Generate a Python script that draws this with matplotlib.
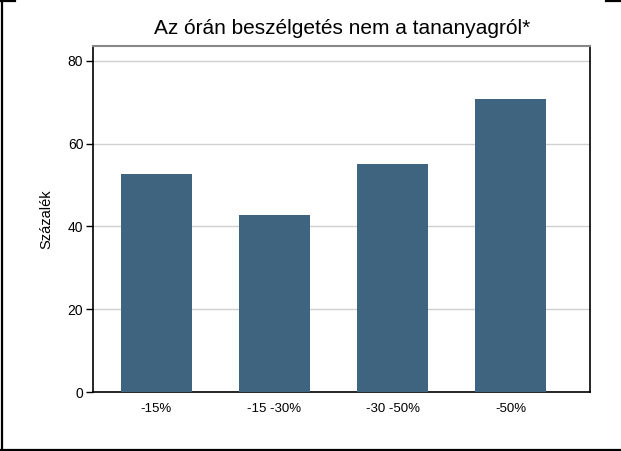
import matplotlib
matplotlib.use('Agg')
import matplotlib.pyplot as plt
from matplotlib.lines import Line2D

categories = ['-15%', '-15 -30%', '-30 -50%', '-50%']
values = [52.7, 42.8, 55.1, 70.8]
yticks = [0, 20, 40, 60, 80]

plt.rcParams['font.family'] = ['Liberation Sans', 'DejaVu Sans']

W, H = 621, 451
fig = plt.figure(figsize=(W / 100, H / 100), dpi=100)
ax = fig.add_axes([93 / W, (H - 392) / H, (590 - 93) / W, (392 - 46) / H])

pos = list(range(1, len(categories) + 1))
ax.bar(pos, values, width=0.6, color='#3f6480', zorder=3)

ax.set_xlim(0.467, 4.668)
ax.set_ylim(0, 83.6)
ax.set_yticks(yticks)
ax.set_xticks(pos)
ax.set_xticklabels(categories)
ax.tick_params(axis='x', length=0, pad=8, labelsize=9.5)
ax.tick_params(axis='y', length=5, width=1, pad=2, labelsize=10)
ax.yaxis.grid(True, color='#d0d0d0', linewidth=1, zorder=0)

for s in ['left', 'bottom', 'right']:
    ax.spines[s].set_color('black')
    ax.spines[s].set_linewidth(1.2)
ax.spines['top'].set_color('#888888')
ax.spines['top'].set_linewidth(1.5)

ax.set_ylabel('Százalék', fontsize=10.5, labelpad=10)
fig.text(342 / W, 1 - 28 / H, 'Az órán beszélgetés nem a tananyagról*',
         ha='center', va='center', fontsize=15)

# outer frame pieces
def fline(x0, y0, x1, y1):
    fig.add_artist(Line2D([x0 / W, x1 / W], [1 - y0 / H, 1 - y1 / H],
                          transform=fig.transFigure, color='black', linewidth=1.6))

fline(1.5, 0.5, 1.5, 450)
fline(0, 449.5, W, 449.5)
fline(0, 0.8, 15, 0.8)
fline(606, 0.8, W, 0.8)

fig.savefig('out.png', dpi=100)
